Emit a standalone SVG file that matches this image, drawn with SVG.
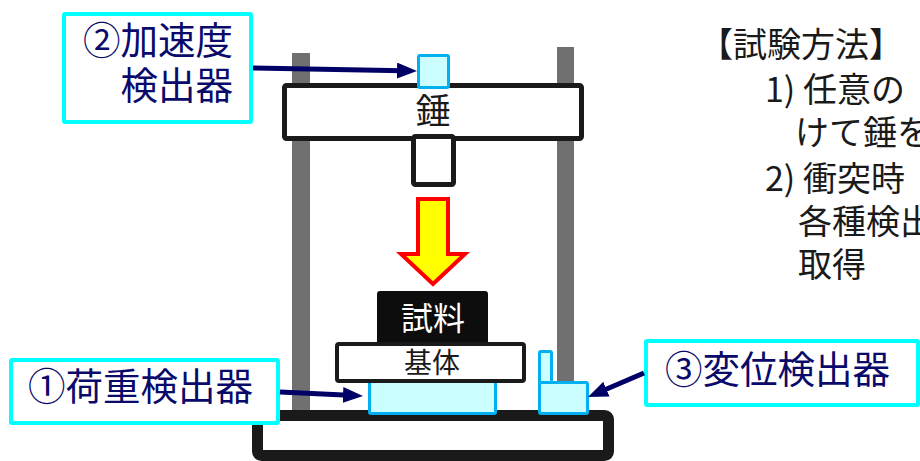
<svg xmlns="http://www.w3.org/2000/svg" width="920" height="461" viewBox="0 0 920 461">
  <defs>
    <style>
      .post { fill: #707070; }
      .frame { fill: #ffffff; stroke: #1a1a1a; stroke-width: 5; }
      .sensor { fill: #ccffff; stroke: #00b0f0; stroke-width: 3; }
      .label { fill: #ffffff; stroke: #00ffff; stroke-width: 4; }
      .ltext { font-family: "Noto Sans CJK JP", sans-serif; font-size: 37.5px; fill: #0a0a6b; }
      .btext { font-family: "Noto Sans CJK JP", sans-serif; font-size: 34px; fill: #1a1a1a; }
      .conn { stroke: #000066; stroke-width: 5; fill: none; }
    </style>
    <marker id="ah" markerUnits="userSpaceOnUse" markerWidth="20" markerHeight="16" refX="6" refY="8" orient="auto">
      <path d="M0,0 L20,8 L0,16 z" fill="#000066"/>
    </marker>
  </defs>
  <rect width="920" height="461" fill="#ffffff"/>

  <g id="posts">
    <rect class="post" x="292" y="53" width="18" height="360"/>
    <rect class="post" x="557" y="47" width="17" height="366"/>
  </g>

  <g id="base">
    <rect class="frame" x="257.5" y="415.5" width="351" height="40" rx="4" style="stroke-width:11"/>
  </g>

  <g id="hammer">
    <rect class="frame" x="284.5" y="85.5" width="297" height="53" rx="2"/>
    <text x="433" y="124" text-anchor="middle" font-family="Noto Sans CJK JP, sans-serif" font-size="35" fill="#1a1a1a">錘</text>
  </g>

  <g id="striker">
    <rect class="frame" x="413.5" y="136.5" width="40" height="48" rx="2"/>
  </g>

  <g id="accelerometer">
    <rect class="sensor" x="418.5" y="55.5" width="30" height="32" rx="1.5"/>
  </g>

  <g id="impact-arrow">
    <polygon points="418,199 448,199 448,254 465,254 433,284 401,254 418,254" fill="#ffff00" stroke="#ff0000" stroke-width="4"/>
  </g>

  <g id="load-sensor">
    <rect class="sensor" x="369.5" y="378" width="126" height="35.5" rx="1.5"/>
  </g>

  <g id="specimen">
    <rect x="377" y="291" width="111" height="55" rx="3" fill="#0d0d0d"/>
    <text x="433" y="330" text-anchor="middle" font-family="Noto Sans CJK JP, sans-serif" font-size="32" fill="#ffffff">試料</text>
  </g>

  <g id="substrate">
    <rect class="frame" x="337" y="344" width="187" height="37" rx="2" style="stroke-width:4"/>
    <text x="432" y="373" text-anchor="middle" font-family="Noto Sans CJK JP, sans-serif" font-size="28" fill="#1a1a1a">基体</text>
  </g>

  <g id="displacement-sensor">
    <rect class="sensor" x="539.5" y="351.5" width="12" height="40" rx="1.5"/>
    <rect class="sensor" x="539.5" y="382.5" width="48" height="31" rx="1.5"/>
  </g>

  <g id="label-accel">
    <rect class="label" x="64" y="14" width="187" height="108" rx="1"/>
    <text class="ltext" text-anchor="end"><tspan x="233" y="54">②加速度</tspan><tspan x="233" y="99">検出器</tspan></text>
  </g>

  <g id="label-load">
    <rect class="label" x="11" y="360" width="267" height="63" rx="1"/>
    <text class="ltext" x="28" y="400">①荷重検出器</text>
  </g>

  <g id="label-disp">
    <rect class="label" x="646" y="341" width="272" height="64" rx="1"/>
    <text class="ltext" x="665" y="383">③変位検出器</text>
  </g>

  <g id="connectors">
    <line class="conn" x1="253" y1="68" x2="403" y2="70.7" marker-end="url(#ah)"/>
    <line class="conn" x1="280" y1="392" x2="349" y2="395.3" marker-end="url(#ah)"/>
    <line class="conn" x1="644" y1="373" x2="600.9" y2="391.5" marker-end="url(#ah)"/>
  </g>

  <g id="method-text">
    <text class="btext" x="699" y="57">【試験方法】</text>
    <text class="btext" x="765" y="102">1) 任意の</text>
    <text class="btext" x="795" y="145">けて錘を</text>
    <text class="btext" x="765" y="191">2) 衝突時</text>
    <text class="btext" x="798" y="234">各種検出</text>
    <text class="btext" x="798" y="277">取得</text>
  </g>
</svg>
